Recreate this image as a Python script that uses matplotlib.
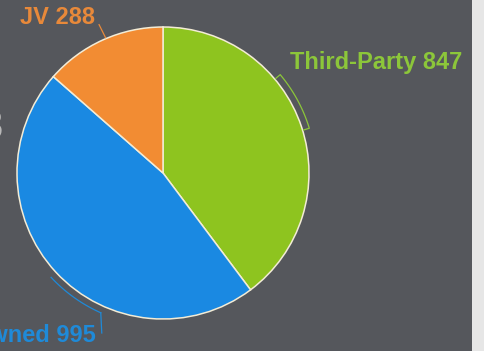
import numpy as np
import matplotlib.pyplot as plt
from matplotlib.patches import Rectangle

labels = ['Third-Party', 'Owned', 'JV']
values = [847, 995, 288]
colors = ['#8ec41f', '#1a89e2', '#f28c33']
text_colors = ['#8cc63a', '#1f8ad8', '#e8893a']

bg = '#55575c'
W, H = 484, 351

fig = plt.figure(figsize=(W / 100, H / 100), dpi=100, facecolor=bg)
ax = fig.add_axes([0, 0, 1, 1])
ax.set_facecolor(bg)

cx, cy, r = 163, H - 173, 146
wedges, _ = ax.pie(values, colors=colors, startangle=90, counterclock=False,
                   center=(cx, cy), radius=r, frame=True,
                   wedgeprops=dict(edgecolor='#f3ecd6', linewidth=1.1))
ax.set_xlim(0, W)
ax.set_ylim(0, H)
ax.set_aspect('equal')
ax.axis('off')

def pt(ang, rad):
    a = np.radians(ang)
    return cx + rad * np.cos(a), cy + rad * np.sin(a)

# leader line for Third-Party: bracket arc
a = np.linspace(17, 40, 30)
xs, ys = pt(a, 153)
x0, y0 = pt(17, 147)
x1, y1 = pt(40, 147)
ax.plot(np.r_[x0, xs, x1], np.r_[y0, ys, y1], color=text_colors[0], lw=0.9)

# Owned: arc then drop to the label
a = np.linspace(223, 246, 30)
xs, ys = pt(a, 153)
ax.plot(xs, ys, color=text_colors[1], lw=0.9)
ax.plot([xs[-1], xs[-1] + 1], [ys[-1], H - 333], color=text_colors[1], lw=0.9)

# JV: short radial line
x0, y0 = pt(113, 147)
x1, y1 = pt(112, 160)
ax.plot([x0, x1 - 4], [y0, y1], color=text_colors[2], lw=0.9)

font = dict(family='Liberation Sans', weight='bold', fontsize=17)
ax.text(290, H - 62, 'Third-Party 847', color=text_colors[0], ha='left', va='center', **font)
ax.text(96, H - 336, 'Owned 995', color=text_colors[1], ha='right', va='center', **font)
ax.text(20, H - 18, 'JV 288', color=text_colors[2], ha='left', va='center', **font)

# cut-off glyph on the left edge
fig.text(2 / W, 1 - 128 / H, '3', color='#b8b8b8', ha='right', va='center',
         fontsize=30, fontweight='bold', family='Liberation Sans')

# light strip on the right edge
fig.patches.append(Rectangle((472 / W, 0), 12 / W, 1, transform=fig.transFigure,
                             facecolor='#e6e6e6', edgecolor='none'))

fig.savefig('out.png', dpi=100, facecolor=bg)
